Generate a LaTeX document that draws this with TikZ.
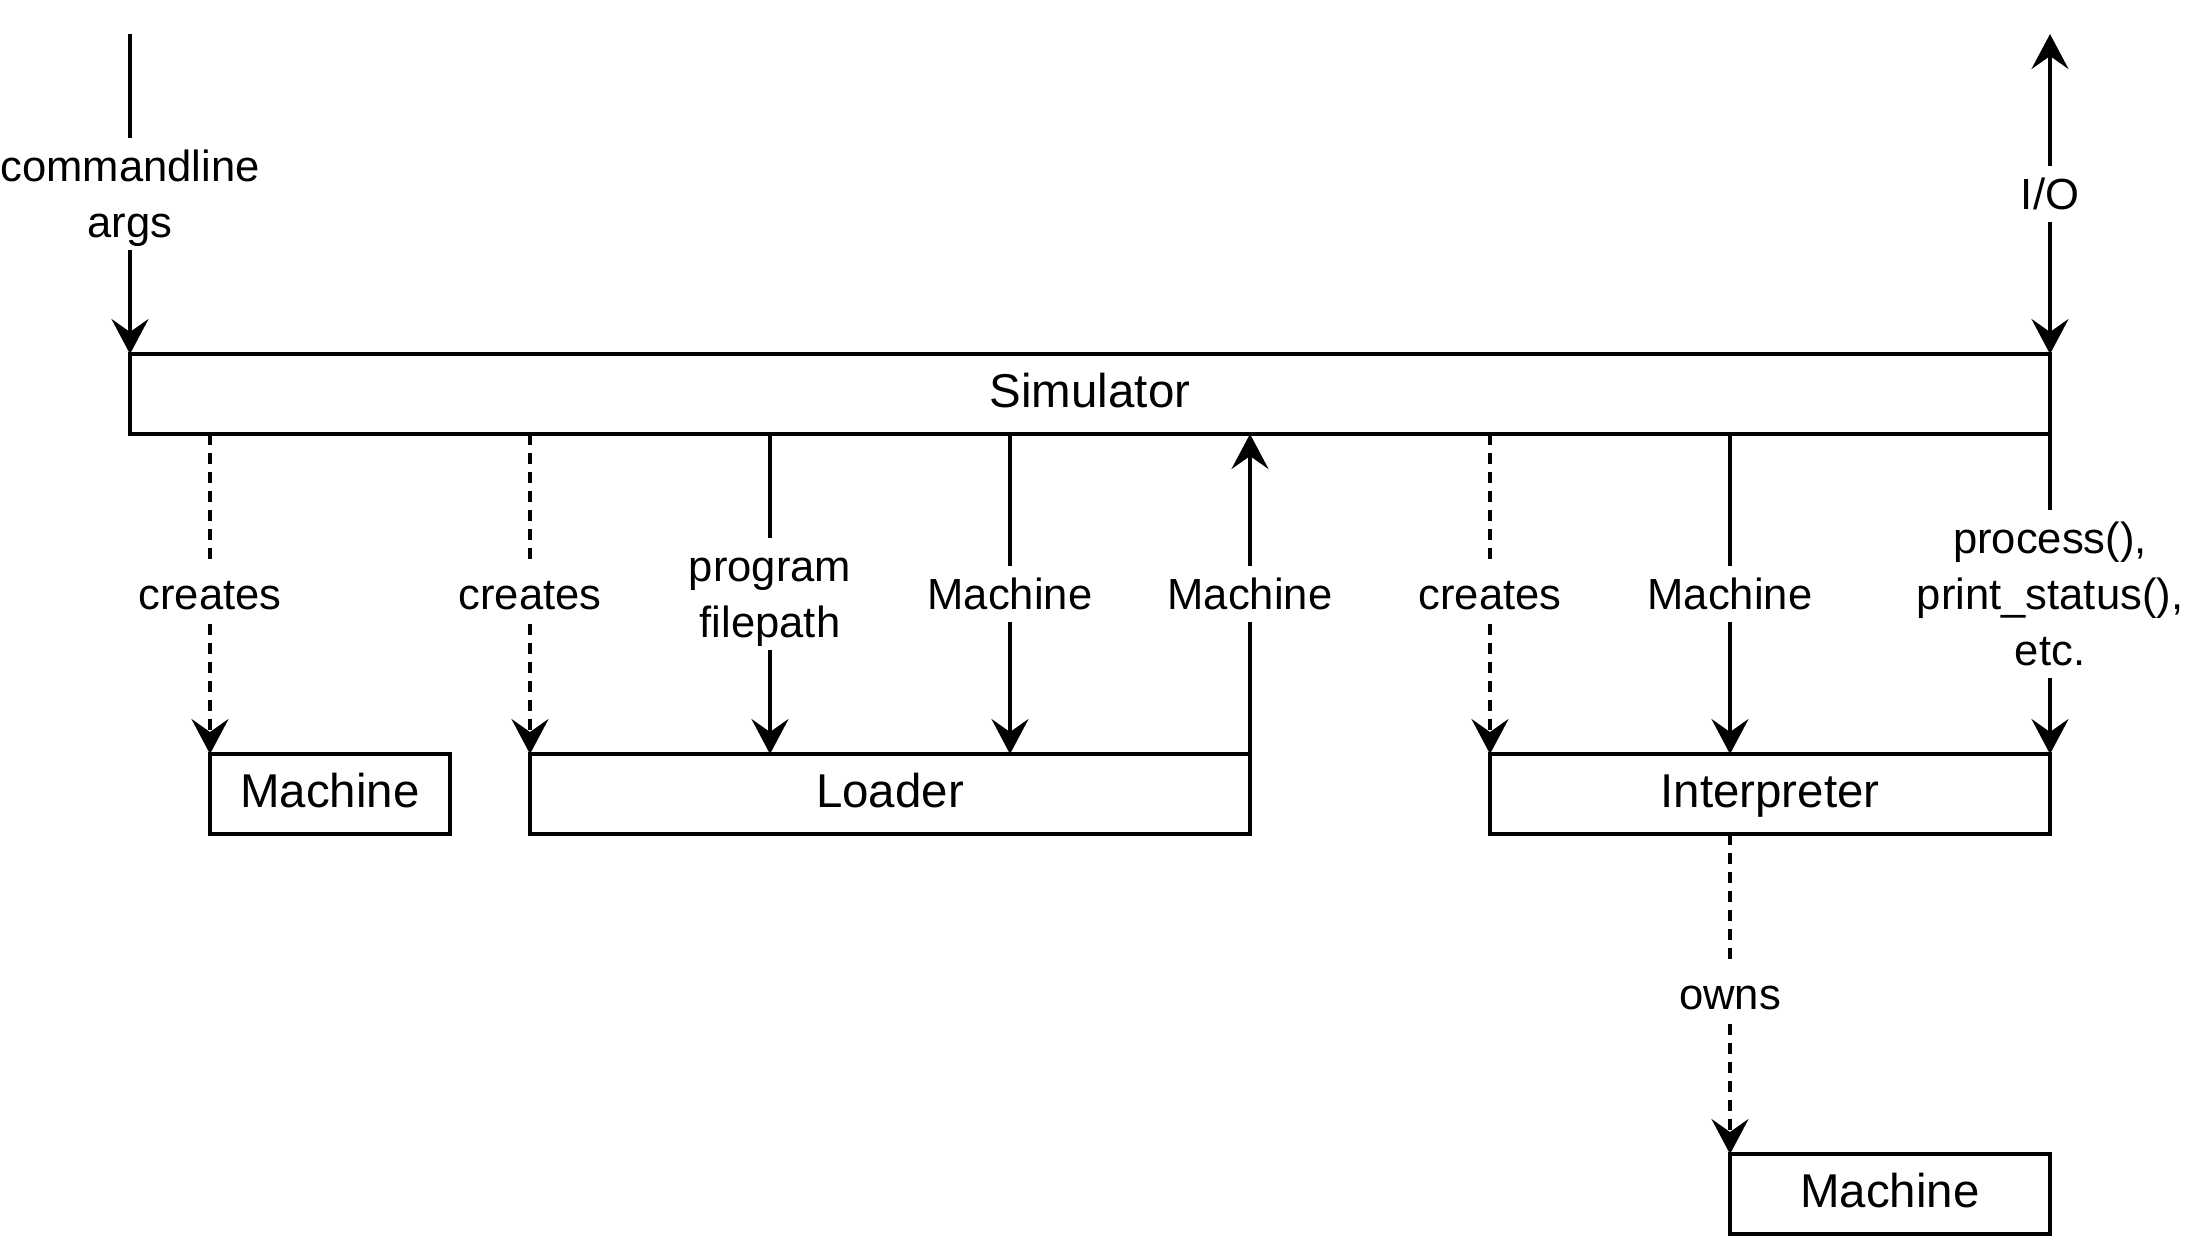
\documentclass[tikz,border=0pt]{standalone}
\usepackage{fontspec}
\setmainfont{Liberation Sans}
\usetikzlibrary{arrows.meta,positioning}
\newcommand\ls{\rule[-0.29em]{0pt}{1.28em}}
\tikzset{
  >={Stealth[length=0.35cm,width=0.37cm,inset=0.13cm]},
  block/.style={
    draw,
    line width=1.1pt,
    minimum height=0.8cm,
    inner sep=0pt,
    outer sep=0pt,
    text height=0.87em,
    text depth=0.1em,
    font=\fontsize{13.5}{16}\selectfont
  },
  flow/.style={->, line width=1.1pt},
  createflow/.style={flow, dash pattern=on 0.11cm off 0.08cm},
  lbl/.style={
    fill=white,
    align=center,
    inner xsep=0.08cm,
    inner ysep=0pt,
    font=\fontsize{12.4}{15.9}\selectfont
  }
}

\begin{document}
\begin{tikzpicture}
      \useasboundingbox (0,0) rectangle (21.88,-12.4);

      \node[block, minimum width=19.2cm] (sim) at (10.9,-3.94) {Simulator};
      \node[block, minimum width=2.4cm, below right=3.2cm and 0.8cm of sim.south west] (machA) {Machine};
      \node[block, minimum width=7.2cm, below right=3.2cm and 4cm of sim.south west] (loader) {Loader};
      \node[block, minimum width=5.6cm, below left=3.2cm and 0cm of sim.south east] (interp) {Interpreter};
      \node[block, minimum width=3.2cm, below left=3.2cm and 0cm of interp.south east] (machB) {Machine};

      \coordinate[above=3.2cm of sim.north west] (cmdin);
      \coordinate[above=3.2cm of sim.north east] (io);
      \coordinate[right=2.4cm of loader.north west] (ldpath);
      \coordinate[right=4.8cm of loader.north west] (ldmach);

      \draw[flow] (cmdin) -- (sim.north west) node[lbl, midway] {\ls commandline\\\ls args};
      \draw[flow, <->] (io) -- (sim.north east) node[lbl, midway] {\ls I/O};

      \draw[createflow] (sim.south -| machA.north west) -- (machA.north west) node[lbl, midway] {\ls creates};
      \draw[createflow] (sim.south -| loader.north west) -- (loader.north west) node[lbl, midway] {\ls creates};
      \draw[flow] (sim.south -| ldpath) -- (ldpath) node[lbl, midway] {\ls program\\\ls filepath};
      \draw[flow] (sim.south -| ldmach) -- (ldmach) node[lbl, midway] {\ls Machine};
      \draw[flow] (loader.north east) -- (loader.north east |- sim.south) node[lbl, midway] {\ls Machine};
      \draw[createflow] (sim.south -| interp.north west) -- (interp.north west) node[lbl, midway] {\ls creates};
      \draw[flow] (sim.south -| machB.north west) -- (interp.north -| machB.north west) node[lbl, midway] {\ls Machine};
      \draw[flow] (sim.south east) -- (interp.north east) node[lbl, midway] {\ls process(),\\\ls print\_status(),\\\ls etc.};
      \draw[createflow] (interp.south -| machB.north west) -- (machB.north west) node[lbl, midway] {\ls owns};
    \end{tikzpicture}
\end{document}
